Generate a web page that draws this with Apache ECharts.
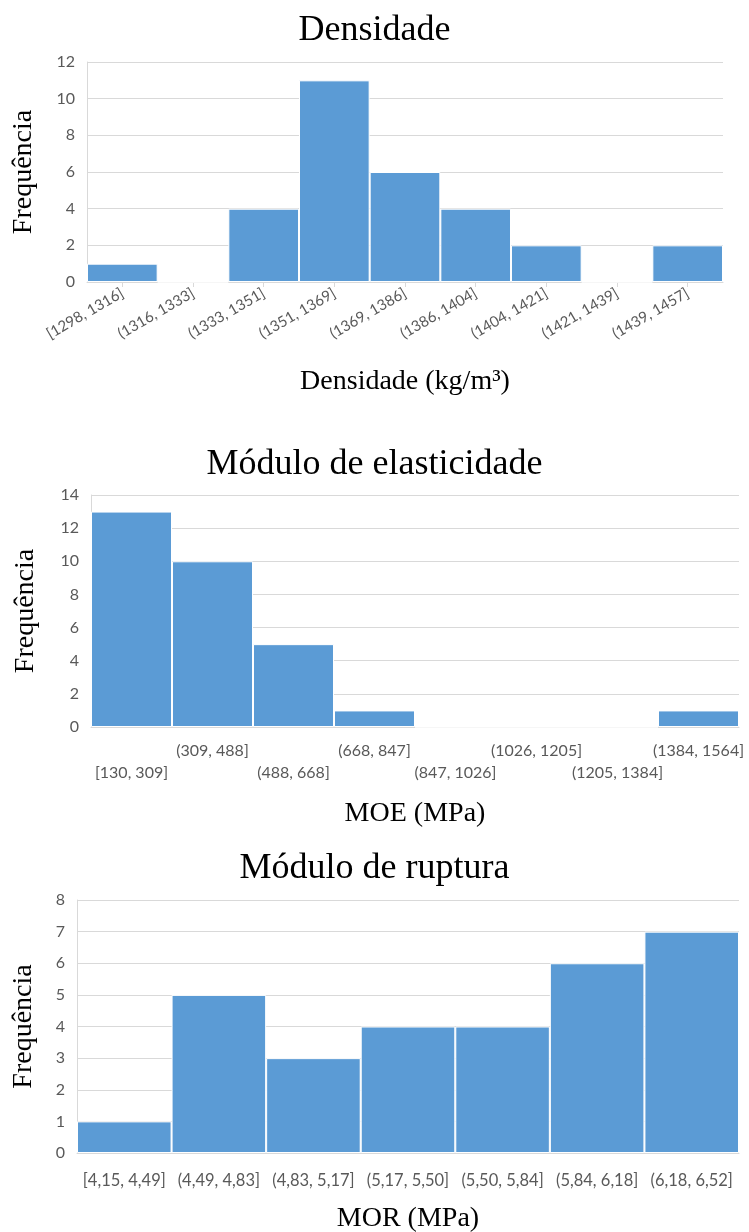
<!DOCTYPE html>
<html>
<head>
<meta charset="utf-8">
<script src="https://cdn.jsdelivr.net/npm/echarts@6/dist/echarts.min.js"></script>
<style>
  html, body { margin: 0; padding: 0; background: #fff; }
  #chart { width: 749px; height: 1232px; }
</style>
</head>
<body>
<div id="chart"></div>
<script>
// Histogram bins and frequencies
const densBins = ['[1298, 1316]', '(1316, 1333]', '(1333, 1351]', '(1351, 1369]', '(1369, 1386]', '(1386, 1404]', '(1404, 1421]', '(1421, 1439]', '(1439, 1457]'];
const densFreq = [1, 0, 4, 11, 6, 4, 2, 0, 2];

const moeBins = ['[130, 309]', '(309, 488]', '(488, 668]', '(668, 847]', '(847, 1026]', '(1026, 1205]', '(1205, 1384]', '(1384, 1564]'];
const moeFreq = [13, 10, 5, 1, 0, 0, 0, 1];

const morBins = ['[4,15, 4,49]', '(4,49, 4,83]', '(4,83, 5,17]', '(5,17, 5,50]', '(5,50, 5,84]', '(5,84, 6,18]', '(6,18, 6,52]'];
const morFreq = [1, 5, 3, 4, 4, 6, 7];

const titles = ['Densidade', 'Módulo de elasticidade', 'Módulo de ruptura'];
const xNames = ['Densidade (kg/m³)', 'MOE (MPa)', 'MOR (MPa)'];
const yName = 'Frequência';

const serif = '"Liberation Serif", "DejaVu Serif", serif';
const sans = 'Lato, "Open Sans", sans-serif';
const barColor = '#5B9BD5';
const gridColor = '#d9d9d9';
const labelColor = '#595959';

function yAxis(max, interval, gridIndex, gap) {
  return {
    type: 'value', gridIndex, min: 0, max, interval,
    name: yName, nameLocation: 'middle', nameGap: gap,
    nameTextStyle: { fontFamily: serif, fontSize: 28, color: '#000' },
    axisLine: { show: true, lineStyle: { color: gridColor, width: 1 } },
    axisTick: { show: false },
    axisLabel: { color: labelColor, fontFamily: sans, fontSize: 16, margin: 12 },
    splitLine: { lineStyle: { color: gridColor, width: 1 } }
  };
}

function xAxis(data, gridIndex, gap, extra) {
  return Object.assign({
    type: 'category', gridIndex, data,
    name: xNames[gridIndex], nameLocation: 'middle', nameGap: gap,
    nameTextStyle: { fontFamily: serif, fontSize: 28, color: '#000' },
    axisLine: { lineStyle: { color: gridColor, width: 1 } },
    axisTick: { show: false },
    axisLabel: { color: labelColor, fontFamily: sans, fontSize: 16, interval: 0 }
  }, extra || {});
}

function bars(data, idx) {
  return {
    type: 'bar', data, xAxisIndex: idx, yAxisIndex: idx,
    barCategoryGap: 0, barGap: 0,
    itemStyle: { color: barColor, borderColor: '#fff', borderWidth: 1 },
    silent: true
  };
}

const titleStyle = { fontFamily: serif, fontSize: 36, fontWeight: 'normal', color: '#000' };

const chart = echarts.init(document.getElementById('chart'), null, { renderer: 'canvas' });
chart.setOption({
  animation: false,
  backgroundColor: '#fff',
  title: [
    { text: titles[0], left: 'center', top: 8, textStyle: titleStyle },
    { text: titles[1], left: 'center', top: 442, textStyle: titleStyle },
    { text: titles[2], left: 'center', top: 846, textStyle: titleStyle }
  ],
  grid: [
    { left: 87, top: 62, width: 636, height: 220, containLabel: false, outerBoundsMode: 'none' },
    { left: 91, top: 495, width: 648, height: 232, containLabel: false, outerBoundsMode: 'none' },
    { left: 77, top: 900, width: 662, height: 253, containLabel: false, outerBoundsMode: 'none' }
  ],
  xAxis: [
    xAxis(densBins, 0, 86, {
      axisTick: { show: true, alignWithLabel: true, length: 5, lineStyle: { color: gridColor } },
      axisLabel: { color: labelColor, fontFamily: sans, fontSize: 15, interval: 0, rotate: 30, margin: 10 }
    }),
    xAxis(moeBins, 1, 73, {
      axisLabel: {
        color: labelColor, fontFamily: sans, fontSize: 16, interval: 0, margin: 13, lineHeight: 22,
        formatter: (v, i) => (i % 2 === 0 ? '\n' + v : v)
      }
    }),
    xAxis(morBins, 2, 52, {
      axisLabel: { color: labelColor, fontFamily: sans, fontSize: 16.5, interval: 0, margin: 19 }
    })
  ],
  yAxis: [
    yAxis(12, 2, 0, 49),
    yAxis(14, 2, 1, 51),
    yAxis(8, 1, 2, 39)
  ],
  series: [
    bars(densFreq, 0),
    bars(moeFreq, 1),
    bars(morFreq, 2)
  ]
});
</script>
</body>
</html>
